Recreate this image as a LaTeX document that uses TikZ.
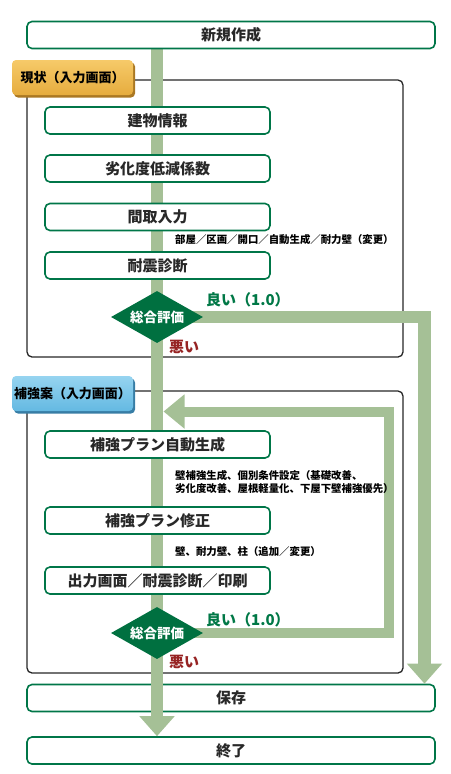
\documentclass[tikz,border=0pt]{standalone}
\usepackage{fontspec}
\setmainfont{Noto Sans CJK JP}
\usetikzlibrary{shapes.geometric,arrows.meta,shadows}
\definecolor{boxgreen}{RGB}{0,118,72}
\definecolor{barcol}{RGB}{165,192,150}
\definecolor{dmdcol}{RGB}{0,112,64}
\definecolor{goodcol}{RGB}{0,120,70}
\definecolor{badcol}{RGB}{150,35,35}
\definecolor{txtgray}{RGB}{40,40,40}
\definecolor{orlight}{RGB}{246,202,105}
\definecolor{ormid}{RGB}{230,172,62}
\definecolor{ordark}{RGB}{170,120,35}
\definecolor{bllight}{RGB}{150,212,240}
\definecolor{blmid}{RGB}{100,185,226}
\definecolor{bldark}{RGB}{55,125,165}
\pgfdeclarelayer{frames}
\pgfdeclarelayer{bars}
\pgfsetlayers{frames,bars,main}
\tikzset{
  basebox/.style={draw=boxgreen, line width=1.6pt, rounded corners=5pt, fill=white,
    minimum height=27pt, inner sep=0pt, text=txtgray,
    font=\fontsize{15}{17}\selectfont\bfseries},
  stepbox/.style={basebox, minimum width=225pt},
  widebox/.style={basebox, minimum width=408pt},
  judge/.style={diamond, fill=dmdcol, draw=none, inner sep=0pt, aspect=1.77,
    minimum width=92pt, minimum height=52pt, text=white,
    font=\fontsize{13.5}{15}\selectfont\bfseries},
  note/.style={anchor=west, inner sep=0pt, text=black, align=left,
    font=\fontsize{10.4}{13}\selectfont\bfseries},
  goodlbl/.style={anchor=west, inner sep=0pt, text=goodcol,
    font=\fontsize{15}{17}\selectfont\bfseries},
  badlbl/.style={anchor=west, inner sep=0pt, text=badcol,
    font=\fontsize{15}{17}\selectfont\bfseries},
  frame/.style={draw=black!85, line width=1.3pt, rounded corners=5pt},
  grouplbl/.style={minimum width=121pt, minimum height=35pt, inner sep=0pt,
    rounded corners=4pt, text=black, font=\fontsize{13}{15}\selectfont\bfseries},
  bar/.style={draw=barcol, line width=12.5pt, line cap=butt, line join=miter,
    -{Triangle[width=34pt,length=20pt]}},
  fbbar/.style={draw=barcol, line width=10pt, line cap=butt, line join=miter,
    -{Triangle[width=33pt,length=21pt]}},
}
\begin{document}
\begin{tikzpicture}[x=1pt,y=-1pt]
\useasboundingbox (0,0) rectangle (450,774);

% frames layer: group frames and boxes lying under the main bar
\begin{pgfonlayer}{frames}
  \draw[frame] (27,80) rectangle (403,357);
  \draw[frame] (27,391) rectangle (403,673);
  \node[widebox] (save) at (231,698) {保存};
  \node[widebox] (fin) at (231,750.5) {終了};
\end{pgfonlayer}

% main nodes
\node[widebox] (new) at (231,35) {新規作成};

\node[grouplbl, top color=orlight, bottom color=ormid,
  general shadow={fill=ordark, shadow xshift=2pt, shadow yshift=-2.5pt}]
  (g1) at (72.5,77.5) {現状（入力画面）};
\node[stepbox] (b1) at (157.5,120.5) {建物情報};
\node[stepbox] (b2) at (157.5,168.5) {劣化度低減係数};
\node[stepbox] (b3) at (157.5,217) {間取入力};
\node[note] (n1) at (175,240) {部屋／区画／開口／自動生成／耐力壁（変更）};
\node[stepbox] (b4) at (157.5,265.5) {耐震診断};
\node[judge] (d1) at (157,317) {総合評価};
\node[goodlbl] (ok1) at (206,300) {良い（1.0）};
\node[badlbl] (ng1) at (169,347) {悪い};

\node[grouplbl, top color=bllight, bottom color=blmid,
  general shadow={fill=bldark, shadow xshift=2pt, shadow yshift=-2.5pt}]
  (g2) at (72.5,393.5) {補強案（入力画面）};
\node[stepbox] (b5) at (157.5,444.5) {補強プラン自動生成};
\node[note] (n2) at (175,481.5) {壁補強生成、個別条件設定（基礎改善、\\劣化度改善、屋根軽量化、下屋下壁補強優先）};
\node[stepbox] (b6) at (157.5,520.5) {補強プラン修正};
\node[note] (n3) at (175,552) {壁、耐力壁、柱（追加／変更）};
\node[stepbox] (b7) at (157.5,580.5) {出力画面／耐震診断／印刷};
\node[judge] (d2) at (157,633) {総合評価};
\node[goodlbl] (ok2) at (206,620) {良い（1.0）};
\node[badlbl] (ng2) at (169,662) {悪い};

% connectors (bars)
\coordinate (rt) at (424.5,317);
\coordinate (fb1) at (388.5,633);
\coordinate (fb2) at (388.5,411.5);
\coordinate (fbtip) at (163.5,411.5);
\begin{pgfonlayer}{bars}
  \draw[bar] (new.south -| d1) -- (fin.north -| d1);
  \draw[bar] (d1.center) -- (rt) -- (rt |- save.north);
  \draw[fbbar] (d2.center) -- (fb1) -- (fb2) -- (fbtip);
\end{pgfonlayer}
\end{tikzpicture}
\end{document}
